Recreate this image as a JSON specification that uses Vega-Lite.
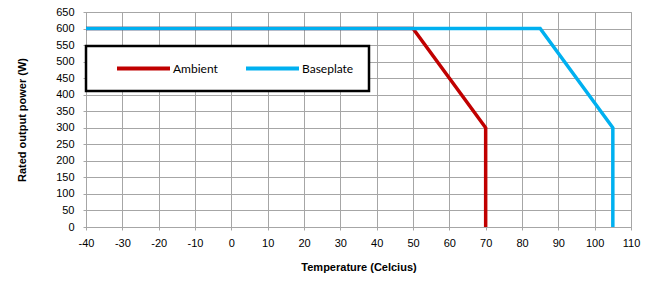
{
  "$schema": "https://vega.github.io/schema/vega-lite/v6.json",
  "autosize": {"type": "none"},
  "width": 545,
  "height": 215,
  "padding": {"left": 86, "top": 12, "right": 25, "bottom": 55},
  "background": "white",
  "config": {
    "view": {"stroke": "#a6a6a6", "strokeWidth": 1},
    "axis": {
      "labelFont": "Liberation Sans",
      "titleFont": "Liberation Sans",
      "labelFontSize": 11,
      "titleFontSize": 11,
      "titleFontWeight": "bold",
      "labelColor": "#000000",
      "titleColor": "#000000",
      "gridColor": "#a6a6a6",
      "gridOpacity": 1,
      "gridWidth": 1,
      "domainColor": "#a6a6a6",
      "tickColor": "#a6a6a6",
      "tickSize": 3
    }
  },
  "data": {
    "values": [
      {"series": "Ambient", "i": 0, "temp": -40, "power": 600},
      {"series": "Ambient", "i": 1, "temp": 50, "power": 600},
      {"series": "Ambient", "i": 2, "temp": 70, "power": 300},
      {"series": "Ambient", "i": 3, "temp": 70, "power": 0},
      {"series": "Baseplate", "i": 0, "temp": -40, "power": 600},
      {"series": "Baseplate", "i": 1, "temp": 85, "power": 600},
      {"series": "Baseplate", "i": 2, "temp": 105, "power": 300},
      {"series": "Baseplate", "i": 3, "temp": 105, "power": 0}
    ]
  },
  "mark": {"type": "line", "strokeWidth": 3.5, "strokeCap": "butt", "strokeJoin": "miter"},
  "encoding": {
    "x": {
      "field": "temp",
      "type": "quantitative",
      "title": "Temperature (Celcius)",
      "scale": {"domain": [-40, 110], "nice": false, "zero": false},
      "axis": {"values": [-40,-30,-20,-10,0,10,20,30,40,50,60,70,80,90,100,110], "labelExpr": "'' + datum.value", "labelPadding": 7, "titlePadding": 13, "labelFlush": false}
    },
    "y": {
      "field": "power",
      "type": "quantitative",
      "title": "Rated output power (W)",
      "scale": {"domain": [0, 650], "nice": false},
      "axis": {"values": [0,50,100,150,200,250,300,350,400,450,500,550,600,650], "labelPadding": 9, "titlePadding": 28, "labelFlush": false}
    },
    "color": {
      "field": "series",
      "type": "nominal",
      "scale": {"domain": ["Ambient", "Baseplate"], "range": ["#c00000", "#00b0f0"]},
      "legend": {
        "title": null,
        "orient": "none",
        "legendX": 0,
        "legendY": 34,
        "direction": "horizontal",
        "symbolType": "stroke",
        "symbolSize": 2809,
        "symbolStrokeWidth": 4,
        "symbolOffset": 14,
        "labelOffset": 1,
        "columnPadding": 12,
        "clipHeight": 15,
        "labelFont": "Lato",
        "labelFontSize": 12,
        "labelColor": "#000000",
        "padding": 15,
        "fillColor": "white",
        "strokeColor": "black",
        "encode": {"legend": {"update": {"strokeWidth": {"value": 2.5}}}}
      }
    },
    "order": {"field": "i", "type": "quantitative"}
  }
}
